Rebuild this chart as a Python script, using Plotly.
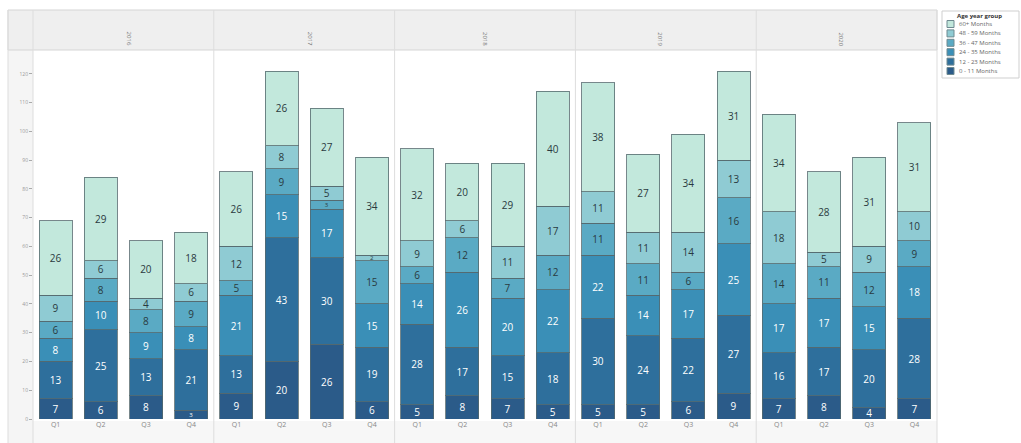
import plotly.graph_objects as go
from plotly.subplots import make_subplots

years = ["2016", "2017", "2018", "2019", "2020"]
quarters = ["Q1", "Q2", "Q3", "Q4"]
groups = ["0 - 11 Months", "12 - 23 Months", "24 - 35 Months",
          "36 - 47 Months", "48 - 59 Months", "60+ Months"]
colors = ["#2b5b89", "#2e6f9c", "#3a8fb7", "#5aaac4", "#8fcbd3", "#c2e8dc"]
text_colors = ["white", "white", "white", "#2a3a40", "#2a3a40", "#2a3a40"]

# values[year] -> list over quarters, one dict per age group
m0_11 = {"2016": [7, 6, 8, 3], "2017": [9, 20, 26, 6], "2018": [5, 8, 7, 5],
         "2019": [5, 5, 6, 9], "2020": [7, 8, 4, 7]}
m12_23 = {"2016": [13, 25, 13, 21], "2017": [13, 43, 30, 19], "2018": [28, 17, 15, 18],
          "2019": [30, 24, 22, 27], "2020": [16, 17, 20, 28]}
m24_35 = {"2016": [8, 10, 9, 8], "2017": [21, 15, 17, 15], "2018": [14, 26, 20, 22],
          "2019": [22, 14, 17, 25], "2020": [17, 17, 15, 18]}
m36_47 = {"2016": [6, 8, 8, 9], "2017": [5, 9, 3, 15], "2018": [6, 12, 7, 12],
          "2019": [11, 11, 6, 16], "2020": [14, 11, 12, 9]}
m48_59 = {"2016": [9, 6, 4, 6], "2017": [12, 8, 5, 2], "2018": [9, 6, 11, 17],
          "2019": [11, 11, 14, 13], "2020": [18, 5, 9, 10]}
m60p = {"2016": [26, 29, 20, 18], "2017": [26, 26, 27, 34], "2018": [32, 20, 29, 40],
        "2019": [38, 27, 34, 31], "2020": [34, 28, 31, 31]}
series = [m0_11, m12_23, m24_35, m36_47, m48_59, m60p]

W, H = 1021, 443
L, R, T, B = 33, 84, 50, 24
pw, ph = W - L - R, H - T - B

fig = make_subplots(rows=1, cols=5, shared_yaxes=True, horizontal_spacing=0)

for ci, yr in enumerate(years):
    for gi, g in enumerate(groups):
        vals = series[gi][yr]
        sizes = [6 if v <= 3 else 10 for v in vals]
        fig.add_trace(go.Bar(
            x=quarters, y=vals, name=g, showlegend=False,
            marker=dict(color=colors[gi], line=dict(color="rgba(85,105,110,0.8)", width=1)),
            text=[str(v) for v in vals], textposition="inside",
            insidetextanchor="middle", textangle=0,
            textfont=dict(size=sizes, color=text_colors[gi], family="Open Sans"),
            hoverinfo="x+y+name",
        ), row=1, col=ci + 1)

fig.update_layout(
    barmode="stack", bargap=0.27,
    width=W, height=H,
    margin=dict(l=L, r=R, t=T, b=B, autoexpand=False),
    paper_bgcolor="white", plot_bgcolor="white",
    font=dict(family="Open Sans", size=6, color="#777777"),
    showlegend=False,
    uniformtext=dict(minsize=6, mode="show"),
)

for i in range(1, 6):
    fig.update_xaxes(showgrid=False, ticks="", tickfont=dict(size=7, color="#888888"),
                     showline=False, row=1, col=i)
fig.update_yaxes(range=[0, 128.3], dtick=10, showgrid=False, ticks="outside", ticklen=3,
                 tickcolor="#aaaaaa", tickfont=dict(size=5, color="#999999"),
                 showline=False, zeroline=False, row=1, col=1)
for i in range(2, 6):
    fig.update_yaxes(range=[0, 128.3], showticklabels=False, showgrid=False,
                     zeroline=False, row=1, col=i)


def px_x(x):
    return (x - L) / pw


def px_y(y):
    return (H - B - y) / ph


top = px_y(10)
bottom = px_y(H)
left = px_x(8)

shapes = [
    dict(type="rect", xref="paper", yref="paper", x0=left, x1=0, y0=bottom, y1=1,
         fillcolor="#f5f5f5", line=dict(width=0), layer="below"),
    dict(type="rect", xref="paper", yref="paper", x0=0, x1=1, y0=bottom, y1=px_y(421),
         fillcolor="#f7f7f7", line=dict(width=0), layer="below"),
    dict(type="rect", xref="paper", yref="paper", x0=left, x1=1, y0=1, y1=top,
         fillcolor="#efefef", line=dict(color="#d5d5d5", width=1), layer="below"),
    dict(type="line", xref="paper", yref="paper", x0=0, x1=0, y0=bottom, y1=top,
         line=dict(color="#dddddd", width=1)),
    dict(type="line", xref="paper", yref="paper", x0=1, x1=1, y0=bottom, y1=top,
         line=dict(color="#dddddd", width=1)),
    dict(type="line", xref="paper", yref="paper", x0=left, x1=left, y0=bottom, y1=top,
         line=dict(color="#dddddd", width=1)),
]
for k in range(1, 5):
    xp = k / 5
    shapes.append(dict(type="line", xref="paper", yref="paper", x0=xp, x1=xp,
                       y0=bottom, y1=top, line=dict(color="#dddddd", width=1)))

# custom compact legend (top-right)
shapes.append(dict(type="rect", xref="paper", yref="paper", x0=px_x(942), x1=px_x(1019),
                   y0=px_y(78), y1=px_y(11), fillcolor="white",
                   line=dict(color="#cfcfcf", width=1)))
annotations = [dict(text="<b>Age year group</b>", xref="paper", yref="paper",
                    x=px_x(980), y=px_y(16), showarrow=False, xanchor="center",
                    yanchor="middle", font=dict(size=6, color="#333333"))]
for j, gi in enumerate(range(5, -1, -1)):
    yc = 24 + j * 9.4
    shapes.append(dict(type="rect", xref="paper", yref="paper",
                       x0=px_x(947), x1=px_x(954), y0=px_y(yc + 3.5), y1=px_y(yc - 3.5),
                       fillcolor=colors[gi], line=dict(color="#6f8a90", width=1)))
    annotations.append(dict(text=groups[gi], xref="paper", yref="paper",
                            x=px_x(957), y=px_y(yc), showarrow=False, xanchor="left",
                            yanchor="middle", font=dict(size=6, color="#666666")))

for k, yr in enumerate(years):
    annotations.append(dict(text=yr, xref="paper", yref="paper", x=(k + 0.5) / 5,
                            y=px_y(30), showarrow=False, textangle=90,
                            font=dict(size=6, color="#777777")))

fig.update_layout(shapes=shapes, annotations=annotations)

fig.write_html("out.html")
